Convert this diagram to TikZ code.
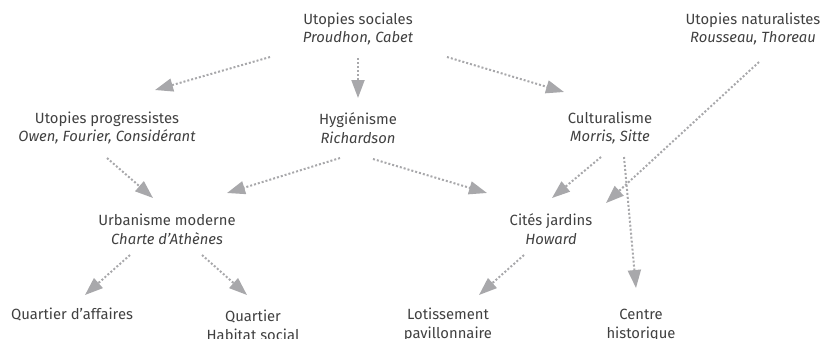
\documentclass[tikz,border=0pt]{standalone}
\usepackage{fontspec}
\setmainfont{Fira Sans}
\usepackage{tikz}
\usetikzlibrary{arrows.meta}
\usetikzlibrary{positioning}

\definecolor{txtgray}{HTML}{404040}
\definecolor{arrgray}{HTML}{A8A8AB}

\tikzset{
  school/.style={align=center, text=txtgray, inner sep=0pt,
    font=\fontsize{7.4}{9.4}\selectfont},
  flow/.style={draw=arrgray, line width=1pt, dash pattern=on 1pt off 1pt,
    -{Triangle[length=9pt,width=6.5pt,fill=arrgray]}},
}

\begin{document}
\begin{tikzpicture}[x=0.5pt,y=-0.5pt]
    \useasboundingbox (0,0) rectangle (828,338);
    % sources
    \node[school] (soc) at (358,29) {Utopies sociales\\\textit{Proudhon, Cabet}};
    \node[school] (nat) at (753,29) {Utopies naturalistes\\\textit{Rousseau, Thoreau}};
    % doctrines
    \node[school] (prog) at (107,128) {Utopies progressistes\\\textit{Owen, Fourier, Considérant}};
    \node[school] (hyg) at (358,128) {Hygiénisme\\\textit{Richardson}};
    \node[school] (cult) at (610,128) {Culturalisme\\\textit{Morris, Sitte}};
    % models
    \node[school] (urb) at (167,229) {Urbanisme moderne\\\textit{Charte d’Athènes}};
    \node[school] (cit) at (551,229) {Cités jardins\\\textit{Howard}};
    % outcomes
    \node[school] (aff) at (72,314) {Quartier d’affaires};
    \node[school] (hab) at (253,325) {Quartier\\Habitat social};
    \node[school] (lot) at (448,325) {Lotissement\\pavillonnaire};
    \node[school] (cen) at (641,325) {Centre\\historique};

    \draw[flow] ([shift={(-88,28)}]soc.center) -- ([shift={(48,-38)}]prog.center);
    \draw[flow] ([shift={(0,29)}]soc.center) -- ([shift={(0,-30)}]hyg.center);
    \draw[flow] ([shift={(89,28)}]soc.center) -- ([shift={(-46,-36)}]cult.center);
    \draw[flow] ([shift={(6,33)}]nat.center) -- ([shift={(55,-26)}]cit.center);
    \draw[flow] ([shift={(-9,29)}]cult.center) -- ([shift={(1,-31)}]cit.center);
    \draw[flow] ([shift={(14,29)}]cult.center) -- ([shift={(-5,-37)}]cen.center);
    \draw[flow] ([shift={(0,30)}]prog.center) -- ([shift={(-14,-31)}]urb.center);
    \draw[flow] ([shift={(-18,30)}]hyg.center) -- ([shift={(60,-36)}]urb.center);
    \draw[flow] ([shift={(15,31)}]hyg.center) -- ([shift={(-64,-36)}]cit.center);
    \draw[flow] ([shift={(-37,26)}]urb.center) -- ([shift={(13,-19)}]aff.center);
    \draw[flow] ([shift={(35,26)}]urb.center) -- ([shift={(-6,-30)}]hab.center);
    \draw[flow] ([shift={(-27,26)}]cit.center) -- ([shift={(31,-30)}]lot.center);
\end{tikzpicture}
\end{document}
